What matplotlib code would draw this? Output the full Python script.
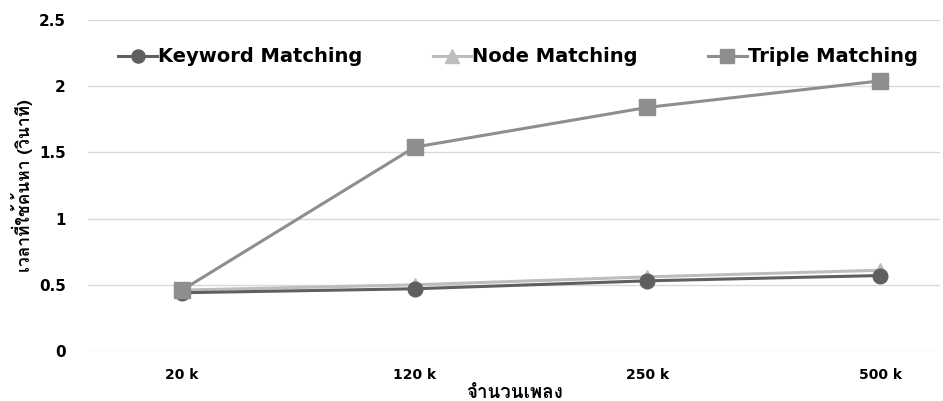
import matplotlib
matplotlib.use("Agg")
import matplotlib.pyplot as plt

categories = ["20 k", "120 k", "250 k", "500 k"]
keyword = [0.44, 0.47, 0.53, 0.57]
node = [0.46, 0.50, 0.56, 0.61]
triple = [0.46, 1.54, 1.84, 2.04]
yticks = [0, 0.5, 1, 1.5, 2, 2.5]
ytick_labels = ["0", "0.5", "1", "1.5", "2", "2.5"]

fam = ["Loma", "Noto Sans Thai", "DejaVu Sans"]

plt.rcParams['font.family'] = ['DejaVu Sans']
fig = plt.figure(figsize=(9.43, 4.01), dpi=100)
ax = fig.add_axes([88/943, 1-351/401, (940-88)/943, (351-20)/401])
x = list(range(len(categories)))
ax.plot(x, keyword, color="#5f5f5f", lw=2.2, marker="o", ms=10.5, label="Keyword Matching", zorder=3)
ax.plot(x, node, color="#bdbdbd", lw=2.2, marker="^", ms=10.5, label="Node Matching", zorder=2)
ax.plot(x, triple, color="#8e8e8e", lw=2.2, marker="s", ms=11, label="Triple Matching", zorder=4)
ax.set_ylim(0, 2.5)
ax.set_xlim(-0.404, 3.257)
ax.set_yticks(yticks)
ax.set_yticklabels(ytick_labels, fontweight="bold", fontsize=11)
ax.set_xticks(x)
ax.set_xticklabels(categories, fontweight="bold", fontsize=10)
ax.grid(axis="y", color="#d9d9d9", lw=1)
ax.set_axisbelow(True)
for s in ax.spines.values():
    s.set_visible(False)
ax.tick_params(length=0, pad=12)
ax.tick_params(axis="y", pad=16)
ax.set_xlabel("จำนวนเพลง", family=fam, fontweight="bold", fontsize=13.5, labelpad=2)
ax.set_ylabel("เวลาที่ใช้ค้นหา (วินาที)", family=fam, fontweight="bold", fontsize=12.5, labelpad=4)
leg = ax.legend(loc="center", bbox_to_anchor=(518/943, 1-57/401), bbox_transform=fig.transFigure,
                ncol=3, frameon=False, prop={"family": "DejaVu Sans", "weight": "bold", "size": 14},
                handlelength=2.0, handletextpad=0.05, columnspacing=3.6, markerscale=0.9)
fig.savefig("out.png", dpi=100)
